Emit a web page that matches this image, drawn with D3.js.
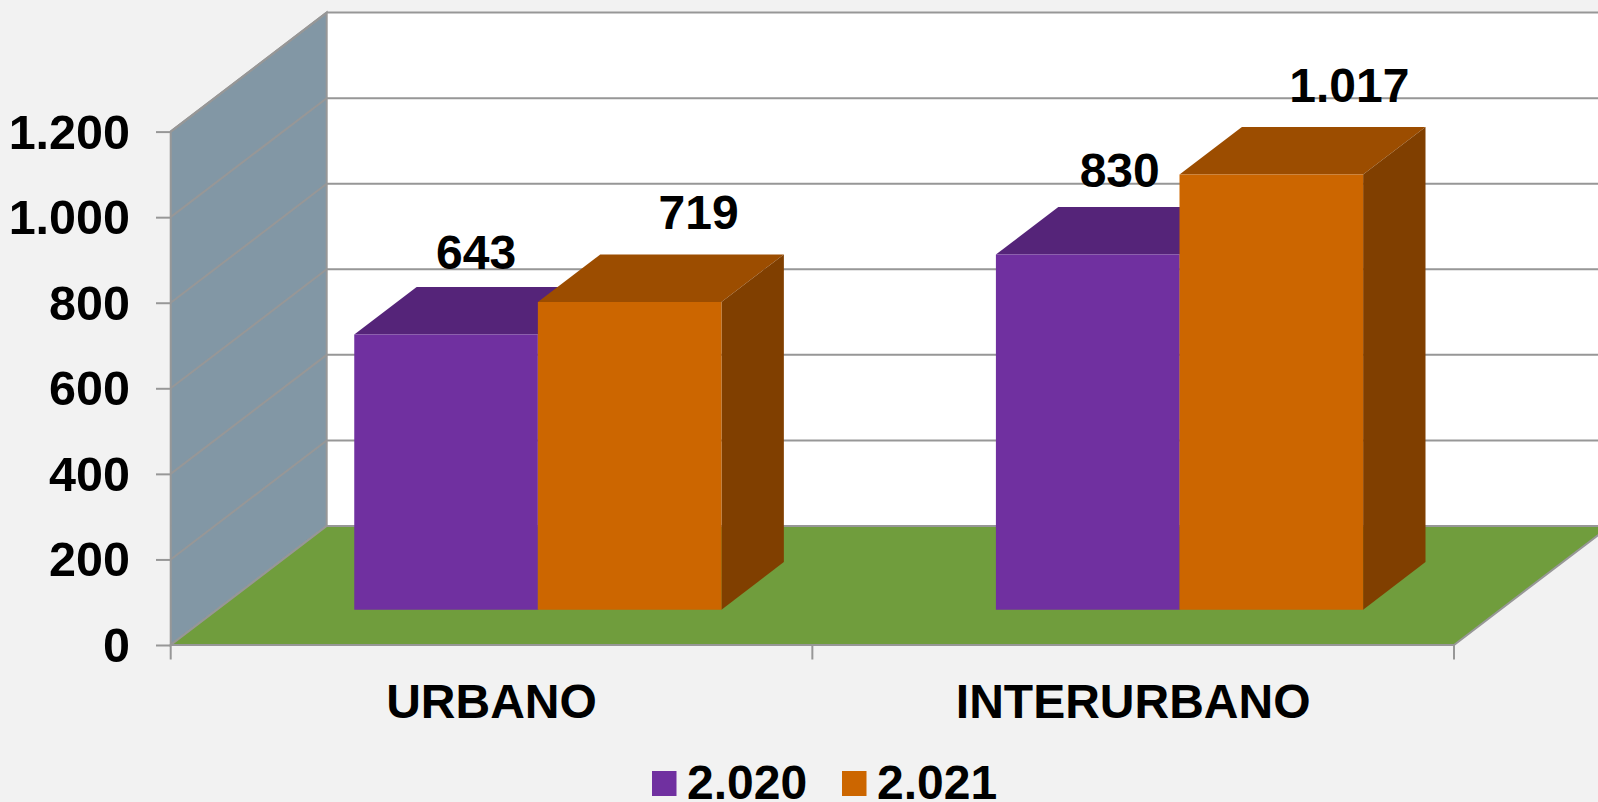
<!DOCTYPE html>
<html>
<head>
<meta charset="utf-8">
<script src="https://cdn.jsdelivr.net/npm/d3@7"></script>
<style>
  html, body { margin: 0; padding: 0; background: #f2f2f2; overflow: hidden; }
  svg { display: block; font-family: "Liberation Sans", Arial, sans-serif; font-weight: bold; }
  text { fill: #000; font-size: 48px; }
</style>
</head>
<body>
<svg id="chart" width="1598" height="802"></svg>
<script>
const categories = ['URBANO', 'INTERURBANO'];
const seriesNames = ['2.020', '2.021'];
const values2020 = [643, 830];
const values2021 = [719, 1017];
const yTicks = [0, 200, 400, 600, 800, 1000, 1200];

const colors = [
  { front: '#7030a0', top: '#552479', side: '#4a1f6b' },
  { front: '#cc6600', top: '#9c4d00', side: '#803f00' }
];
const gridColor = '#979797';

const width = 1598;
const height = 802;
// 3d box
const plotLeft = 170.7;
const plotRight = 1454;
const y0 = 645;
const y1200 = 131.6;
const depthX = 156;
const depthY = 119;
// bars sit in this part of the floor depth
const barNear = 0.297;
const barFar = 0.697;

const svg = d3.select('#chart');

const xScale = d3.scaleBand().domain(categories).range([plotLeft, plotRight]);
const yScale = d3.scaleLinear().domain([0, 1200]).range([y0, y1200]);
const seriesScale = d3.scaleBand().domain(seriesNames)
  .range([-183.6, 183.6]);

// move a front plane point back into the box, d goes from 0 to 1
const project = (x, y, d) => [x + d * depthX, y - d * depthY];
const polygon = d3.line();

// walls
const wallTop = project(plotLeft, yScale(1200), 1)[1];
const wallBottom = project(plotLeft, yScale(0), 1)[1];
const backLeft = plotLeft + depthX;

svg.append('rect')
  .attr('x', backLeft)
  .attr('y', wallTop)
  .attr('width', width - backLeft)
  .attr('height', wallBottom - wallTop)
  .attr('fill', '#fff');

svg.append('path')
  .attr('d', `${polygon([
    [plotLeft, yScale(0)],
    [plotLeft, yScale(1200)],
    project(plotLeft, yScale(1200), 1),
    project(plotLeft, yScale(0), 1)
  ])}Z`)
  .attr('fill', '#8297a5')
  .attr('stroke', gridColor)
  .attr('stroke-width', 2);

// gridlines on side and back wall
const grid = svg.append('g').attr('class', 'grid')
  .attr('fill', 'none')
  .attr('stroke', gridColor)
  .attr('stroke-width', 2);
grid.selectAll('path')
  .data(yTicks)
  .enter()
  .append('path')
  .attr('d', (d) => {
    const back = project(plotLeft, yScale(d), 1);
    return polygon([[plotLeft, yScale(d)], back, [width, back[1]]]);
  });

// floor
svg.append('path')
  .attr('d', `${polygon([
    [plotLeft, y0],
    [plotRight, y0],
    project(plotRight, y0, 1),
    project(plotLeft, y0, 1)
  ])}Z`)
  .attr('fill', '#709d3d')
  .attr('stroke', gridColor)
  .attr('stroke-width', 2);

// axes
const yAxis = d3.axisLeft(yScale)
  .tickValues(yTicks)
  .tickSize(14.7)
  .tickPadding(26)
  .tickFormat(d => d3.format(',')(d).replace(',', '.'));
const yG = svg.append('g')
  .attr('transform', `translate(${plotLeft},0)`)
  .call(yAxis);
yG.select('.domain').remove();
yG.selectAll('.tick line').attr('stroke', gridColor).attr('stroke-width', 2);
yG.selectAll('.tick text')
  .attr('dy', null)
  .attr('y', 16.5)
  .style('font-size', '48.5px')
  .style('font-family', 'inherit')
  .attr('fill', '#000');

const xAxis = d3.axisBottom(xScale).tickSize(0).tickPadding(0);
const xG = svg.append('g')
  .attr('transform', `translate(0,${y0})`)
  .call(xAxis);
xG.select('.domain').remove();
xG.selectAll('.tick text')
  .attr('dy', null)
  .attr('y', 73)
  .style('font-size', '48px')
  .style('font-family', 'inherit')
  .attr('fill', '#000');

// category separators under the floor
const sepX = [plotLeft, plotLeft + xScale.bandwidth(), plotRight];
svg.append('g').selectAll('line')
  .data(sepX)
  .enter()
  .append('line')
  .attr('x1', d => d)
  .attr('x2', d => d)
  .attr('y1', y0)
  .attr('y2', y0 + 14.5)
  .attr('stroke', gridColor)
  .attr('stroke-width', 2);

// bars
const barData = [];
[values2020, values2021].forEach((vals, s) => {
  vals.forEach((v, c) => {
    barData.push({ category: categories[c], series: seriesNames[s], s, value: v });
  });
});

const barGroups = svg.append('g').attr('class', 'bars')
  .selectAll('g')
  .data(barData)
  .enter()
  .append('g');

function barBox(d) {
  const center = xScale(d.category) + (xScale.bandwidth() / 2);
  const left = center + seriesScale(d.series);
  const right = left + seriesScale.bandwidth();
  const top = yScale(d.value);
  return { left, right, top, bottom: y0 };
}

barGroups.append('path')
  .attr('fill', d => colors[d.s].top)
  .attr('d', (d) => {
    const b = barBox(d);
    return `${polygon([
      project(b.left, b.top, barNear),
      project(b.right, b.top, barNear),
      project(b.right, b.top, barFar),
      project(b.left, b.top, barFar)
    ])}Z`;
  });
barGroups.append('path')
  .attr('fill', d => colors[d.s].side)
  .attr('d', (d) => {
    const b = barBox(d);
    return `${polygon([
      project(b.right, b.top, barNear),
      project(b.right, b.top, barFar),
      project(b.right, b.bottom, barFar),
      project(b.right, b.bottom, barNear)
    ])}Z`;
  });
barGroups.append('path')
  .attr('fill', d => colors[d.s].front)
  .attr('d', (d) => {
    const b = barBox(d);
    return `${polygon([
      project(b.left, b.top, barNear),
      project(b.right, b.top, barNear),
      project(b.right, b.bottom, barNear),
      project(b.left, b.bottom, barNear)
    ])}Z`;
  });

// value labels, placed by hand around the top of the box like the original
const labelShift = {
  'URBANO2.020': [30, -18],
  'URBANO2.021': [69, -25],
  'INTERURBANO2.020': [32, -20],
  'INTERURBANO2.021': [78, -25]
};
svg.append('g').attr('class', 'labels')
  .selectAll('text')
  .data(barData)
  .enter()
  .append('text')
  .attr('text-anchor', 'middle')
  .attr('x', (d) => {
    const b = barBox(d);
    const front = project((b.left + b.right) / 2, b.top, barNear);
    return front[0] + labelShift[d.category + d.series][0];
  })
  .attr('y', (d) => {
    const b = barBox(d);
    return project(b.left, b.top, barFar)[1] + labelShift[d.category + d.series][1];
  })
  .text(d => d3.format(',')(d.value).replace(',', '.'));

// legend
const legendX = [652, 842];
const legend = svg.append('g').attr('class', 'legend')
  .selectAll('g')
  .data(seriesNames)
  .enter()
  .append('g')
  .attr('transform', (d, i) => `translate(${legendX[i]},771)`);
legend.append('rect')
  .attr('width', 24.5)
  .attr('height', 25)
  .attr('fill', (d, i) => colors[i].front);
legend.append('text')
  .attr('x', 35)
  .attr('y', 28)
  .text(d => d);
</script>
</body>
</html>
